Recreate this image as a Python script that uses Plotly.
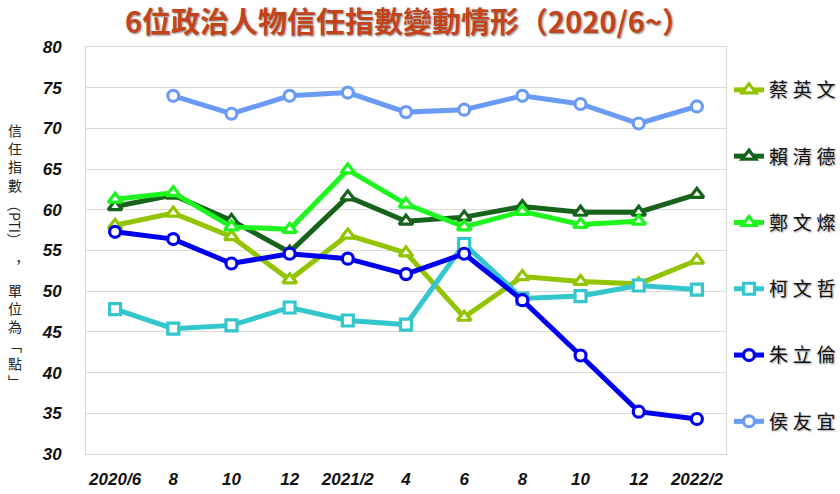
import plotly.graph_objects as go

months = ["2020/6", "8", "10", "12", "2021/2", "4", "6", "8 ", "10 ", "12 ", "2022/2"]
tick_labels = ["2020/6", "8", "10", "12", "2021/2", "4", "6", "8", "10", "12", "2022/2"]

names = ["蔡英文", "賴清德", "鄭文燦", "柯文哲", "朱立倫", "侯友宜"]
tsai = [58.1, 59.6, 56.7, 51.4, 56.9, 54.7, 46.8, 51.8, 51.2, 50.9, 53.8]
lai = [60.4, 61.8, 58.7, 54.8, 61.6, 58.6, 59.1, 60.4, 59.7, 59.7, 61.9]
cheng = [61.3, 62.1, 57.9, 57.6, 64.9, 60.7, 57.9, 59.8, 58.2, 58.6, None]
ko = [47.8, 45.4, 45.8, 48.0, 46.4, 45.9, 55.8, 49.1, 49.4, 50.7, 50.2]
chu = [57.3, 56.4, 53.4, 54.6, 54.0, 52.1, 54.6, 48.9, 42.1, 35.2, 34.3]
hou = [None, 74.0, 71.8, 74.0, 74.4, 72.0, 72.3, 74.0, 73.0, 70.6, 72.7]

series = [tsai, lai, cheng, ko, chu, hou]
colors = ["#92C400", "#17631B", "#1EF51E", "#33C6CC", "#0000F0", "#6A9BF5"]
symbols = ["triangle-up", "triangle-up", "triangle-up", "square", "circle", "circle"]

# y-axis title: stacked pieces (upright / rotated / upright)
ylab_top = ["信", "任", "指", "數"]
ylab_mid = "（PTI）"
ylab_comma = "︐"
ylab_bot = ["單", "位", "為", "﹁", "點", "﹂"]

fig = go.Figure()
for i, (n, ys, c, s) in enumerate(zip(names, series, colors, symbols)):
    msize = 11 if s == "circle" else (11 if s == "square" else 12)
    fig.add_trace(go.Scatter(
        x=months, y=ys, name="\u2005".join(n), mode="lines+markers",
        line=dict(color=c, width=5),
        marker=dict(symbol=s, size=msize, color="white",
                    line=dict(color=c, width=3.2)),
        legendgroup=f"g{i}",
    ))

fig.update_layout(
    width=840, height=494,
    margin=dict(l=86, r=114, t=47, b=40, autoexpand=False),
    paper_bgcolor="white", plot_bgcolor="white",
    font=dict(family="Noto Sans CJK TC, Noto Sans, sans-serif", color="#222"),
    title=dict(
        text="<b>6位政治人物信任指數變動情形（2020/6~）</b>",
        x=(408 - 86) / 640, xref="paper", xanchor="center",
        y=1 - 23 / 494, yref="container", yanchor="middle",
        font=dict(size=29, color="#C3441A",
                  family="Noto Sans CJK TC, sans-serif",
                  shadow="1px 1px 2px rgba(0,0,0,0.45)"),
    ),
    showlegend=True,
    legend=dict(
        x=1.0 + 3 / 640, xanchor="left", y=1.0 - 24 / 407, yanchor="top",
        xref="paper", yref="paper",
        traceorder="grouped", tracegroupgap=38.6,
        font=dict(size=19, color="#111",
                  family="Noto Sans CJK TC, sans-serif",
                  shadow="1px 1px 2px rgba(0,0,0,0.4)"),
        bgcolor="rgba(0,0,0,0)",
    ),
)

tick_font = dict(family="Liberation Sans, Arial, sans-serif", size=17, color="#111")
fig.update_xaxes(
    type="category", range=[-0.5, 10.5], automargin=False,
    tickvals=months, ticktext=[f"<b><i>{t}</i></b>" for t in tick_labels],
    tickfont=tick_font, showgrid=False, zeroline=False,
    showline=True, linecolor="#D9D9D9", linewidth=1, mirror=True,
    ticks="", ticklabelstandoff=10,
)
fig.update_yaxes(
    range=[30, 80], automargin=False,
    tickvals=list(range(30, 81, 5)),
    ticktext=[f"<b><i>{v}</i></b>" for v in range(30, 81, 5)],
    tickfont=tick_font, showgrid=True, gridcolor="#D9D9D9", gridwidth=1,
    zeroline=False, showline=True, linecolor="#D9D9D9", linewidth=1, mirror=True,
    ticks="", ticklabelstandoff=20,
)

lab_font = dict(size=14, color="#222", family="Noto Sans CJK TC, sans-serif")
lab_x = (15 - 86) / 640
fig.add_annotation(text="<br>".join(ylab_top), xref="paper", yref="paper",
                   x=lab_x, xanchor="center", y=(454 - 119) / 407, yanchor="top",
                   showarrow=False, font=lab_font, borderpad=0)
fig.add_annotation(text=ylab_mid, textangle=90, xref="paper", yref="paper",
                   x=lab_x, xanchor="center", y=(454 - 222) / 407, yanchor="middle",
                   showarrow=False, font=lab_font, borderpad=0)
fig.add_annotation(text=ylab_comma, xref="paper", yref="paper",
                   x=lab_x, xanchor="center", y=(454 - 266) / 407, yanchor="middle",
                   showarrow=False, font=lab_font, borderpad=0)
fig.add_annotation(text="<br>".join(ylab_bot), xref="paper", yref="paper",
                   x=lab_x, xanchor="center", y=(454 - 279) / 407, yanchor="top",
                   showarrow=False, font=lab_font, borderpad=0)

fig.write_html("out.html")
